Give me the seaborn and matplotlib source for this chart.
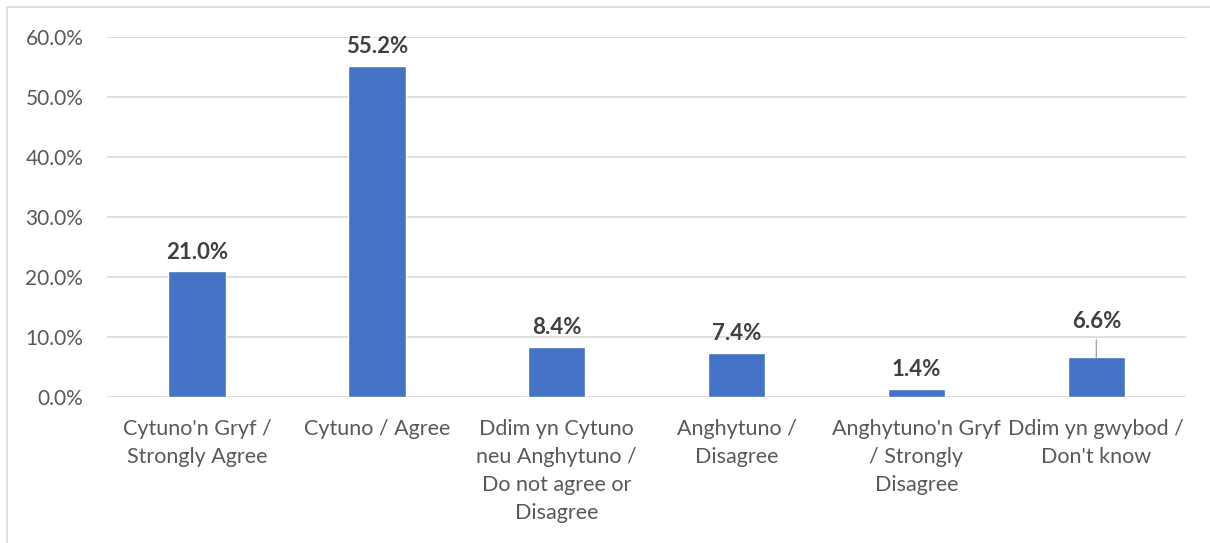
import matplotlib
matplotlib.use("Agg")
import matplotlib.pyplot as plt
import matplotlib.patches as mpatches
import seaborn as sns
import pandas as pd
from matplotlib.ticker import PercentFormatter

# Data
categories = [
    "Cytuno'n Gryf /\nStrongly Agree",
    "Cytuno / Agree",
    "Ddim yn Cytuno\nneu Anghytuno /\nDo not agree or\nDisagree",
    "Anghytuno /\nDisagree",
    "Anghytuno'n Gryf\n/ Strongly\nDisagree",
    "Ddim yn gwybod /\nDon't know",
]
values = [21.0, 55.2, 8.4, 7.4, 1.4, 6.6]

df = pd.DataFrame({"category": categories, "pct": values})

sns.set_theme(style="white")
plt.rcParams["font.family"] = ["Lato", "DejaVu Sans"]

fig = plt.figure(figsize=(12.1, 5.43), dpi=100)
ax = fig.add_axes([0.0884, 0.2689, 0.892, 0.663])

# chart border (Excel style), only left and top edges fall inside the image
fig.patches.append(mpatches.Rectangle((7 / 1210, -0.1), 1.2, (543 - 7) / 543 + 0.1,
                                      transform=fig.transFigure, fill=False,
                                      edgecolor="#D9D9D9", linewidth=1.2))

sns.barplot(data=df, x="category", y="pct", color="#4472C4", width=0.32,
            saturation=1, ax=ax, zorder=3)

ax.set_ylim(0, 60)
ax.set_yticks(range(0, 61, 10))
ax.yaxis.set_major_formatter(PercentFormatter(decimals=1))
ax.grid(axis="y", color="#D9D9D9", linewidth=1.2, zorder=0)
for s in ax.spines.values():
    s.set_visible(False)
ax.set_xlabel("")
ax.set_ylabel("")
ax.tick_params(axis="y", labelsize=15, labelcolor="#595959", length=0, pad=17)
ax.tick_params(axis="x", labelsize=15.5, labelcolor="#595959", length=0, pad=16)
for lbl in ax.get_xticklabels():
    lbl.set_linespacing(1.5)

# data labels
for i, v in enumerate(values):
    if i == len(values) - 1:
        ax.annotate(f"{v:.1f}%", xy=(i, v), xytext=(0, 18), textcoords="offset points",
                    ha="center", va="bottom", fontsize=16, fontweight="bold",
                    color="#404040",
                    arrowprops=dict(arrowstyle="-", color="#A6A6A6", lw=1,
                                    shrinkA=3, shrinkB=0))
    else:
        ax.annotate(f"{v:.1f}%", xy=(i, v), xytext=(0, 6), textcoords="offset points",
                    ha="center", va="bottom", fontsize=16, fontweight="bold",
                    color="#404040")

fig.savefig("out.png", dpi=100)
